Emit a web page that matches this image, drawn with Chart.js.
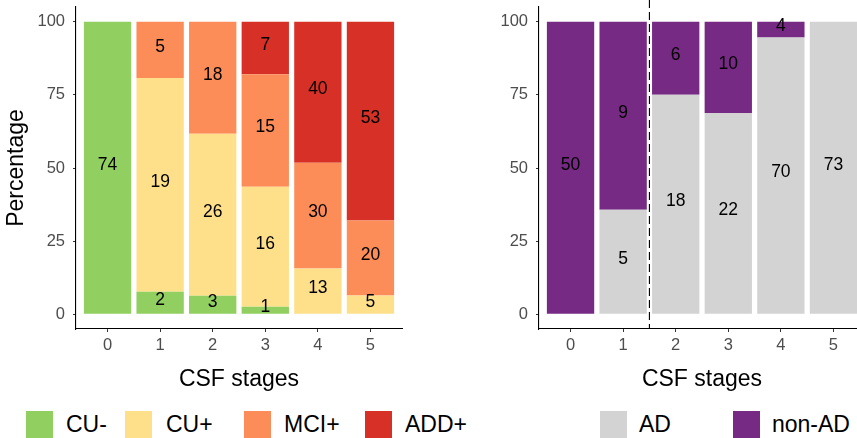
<!DOCTYPE html>
<html>
<head>
<meta charset="utf-8">
<script src="https://cdn.jsdelivr.net/npm/chart.js@4/dist/chart.umd.min.js"></script>
<style>
  html, body { margin: 0; padding: 0; width: 857px; height: 438px; overflow: hidden; background: #fff; }
  body { position: relative; font-family: "Liberation Sans", Arial, sans-serif; }
  .panel { position: absolute; top: 0; }
  .key { position: absolute; top: 411px; width: 27px; height: 27px; }
  .key-label { position: absolute; top: 411px; height: 27px; line-height: 27px; font-size: 23px; color: #000; }
</style>
</head>
<body>
<div class="panel" style="left:0"><canvas id="left" width="420" height="400"></canvas></div>
<div class="panel" style="left:460px"><canvas id="right" width="420" height="400"></canvas></div>
<div id="legend"></div>
<script>
// counts per CSF stage
const stages = [0, 1, 2, 3, 4, 5];
const cuNeg = [74, 2, 3, 1, 0, 0];
const cuPos = [0, 19, 26, 16, 13, 5];
const mciPos = [0, 5, 18, 15, 30, 20];
const addPos = [0, 0, 0, 7, 40, 53];
const adCounts = [0, 5, 18, 22, 70, 73];
const nonAdCounts = [50, 9, 6, 10, 4, 0];
const yTicks = [0, 25, 50, 75, 100];
const cutStage = 1.5;

const FONT = '"Liberation Sans", Arial, sans-serif';

function toPct(groups) {
  const totals = stages.map((_, i) => groups.reduce((s, g) => s + g.counts[i], 0));
  return groups.map(g => ({
    label: g.label,
    counts: g.counts,
    data: stages.map((s, i) => ({ x: s, y: totals[i] ? g.counts[i] / totals[i] * 100 : 0 })),
    backgroundColor: g.color,
    borderWidth: 0,
    barPercentage: 0.9,
    categoryPercentage: 1
  }));
}

const leftGroups = [
  { label: 'CU-', counts: cuNeg, color: '#91CF60' },
  { label: 'CU+', counts: cuPos, color: '#FEE08B' },
  { label: 'MCI+', counts: mciPos, color: '#FC8D59' },
  { label: 'ADD+', counts: addPos, color: '#D73027' }
];
const rightGroups = [
  { label: 'AD', counts: adCounts, color: '#D3D3D3' },
  { label: 'non-AD', counts: nonAdCounts, color: '#762A83' }
];

// count labels, axis titles and the optional cut line
const textPlugin = {
  id: 'texts',
  afterDatasetsDraw(chart) {
    const ctx = chart.ctx;
    const area = chart.chartArea;
    const o = chart.options.plugins.texts;
    ctx.save();
    if (o.cut != null) {
      const xp = chart.scales.x.getPixelForValue(o.cut);
      ctx.strokeStyle = '#000';
      ctx.lineWidth = 1.1;
      ctx.setLineDash([8, 4]);
      ctx.beginPath();
      ctx.moveTo(xp, 0);
      ctx.lineTo(xp, area.bottom);
      ctx.stroke();
      ctx.setLineDash([]);
    }
    ctx.font = '17.5px ' + FONT;
    ctx.fillStyle = '#000';
    ctx.textAlign = 'center';
    ctx.textBaseline = 'middle';
    chart.data.datasets.forEach((ds, d) => {
      chart.getDatasetMeta(d).data.forEach((bar, i) => {
        const n = ds.counts[i];
        if (!n) return;
        ctx.fillText(String(n), bar.x, (bar.y + bar.base) / 2 - 3);
      });
    });
    ctx.font = '23px ' + FONT;
    ctx.fillText('CSF stages', (area.left + area.right) / 2, 380);
    if (o.yTitle) {
      ctx.translate(17, (area.top + area.bottom) / 2);
      ctx.rotate(-Math.PI / 2);
      ctx.fillText(o.yTitle, 0, 0);
    }
    ctx.restore();
  }
};

function makeChart(id, groups, extra, rightPad) {
  return new Chart(document.getElementById(id), {
    type: 'bar',
    data: { datasets: toPct(groups) },
    plugins: [textPlugin],
    options: {
      responsive: false,
      animation: false,
      layout: { padding: { top: 7, right: rightPad, left: 0, bottom: 0 } },
      plugins: { legend: { display: false }, tooltip: { enabled: false }, texts: extra },
      scales: {
        x: {
          type: 'linear', min: -0.6, max: 5.6, offset: false, stacked: true,
          afterBuildTicks: s => { s.ticks = stages.map(v => ({ value: v })); },
          afterFit: s => { s.height = 71; s.paddingLeft = 0; s.paddingRight = 0; },
          grid: { drawOnChartArea: false, drawTicks: true, tickLength: 3, color: '#333', offset: false },
          border: { display: true, color: '#000', width: 1.1 },
          ticks: { color: '#4D4D4D', font: { size: 16.5, family: FONT }, padding: 4, maxRotation: 0 }
        },
        y: {
          type: 'linear', min: -5, max: 105, stacked: true,
          afterBuildTicks: s => { s.ticks = yTicks.map(v => ({ value: v })); },
          afterFit: s => { s.width = extra.axisLeft; s.paddingTop = 0; s.paddingBottom = 0; },
          grid: { drawOnChartArea: false, drawTicks: true, tickLength: 3, color: '#333' },
          border: { display: true, color: '#000', width: 1.1 },
          ticks: { color: '#4D4D4D', font: { size: 16.5, family: FONT }, padding: 8 }
        }
      }
    }
  });
}

makeChart('left', leftGroups, { yTitle: 'Percentage', axisLeft: 76, cut: null }, 18);
makeChart('right', rightGroups, { yTitle: null, axisLeft: 79, cut: cutStage }, 15);

// legend under each panel
const legendPos = [
  [leftGroups[0], 26, 66], [leftGroups[1], 125, 166], [leftGroups[2], 244, 284], [leftGroups[3], 365, 405],
  [rightGroups[0], 600, 639], [rightGroups[1], 733, 772]
];
const legend = document.getElementById('legend');
legendPos.forEach(([g, kx, tx]) => {
  const k = document.createElement('div');
  k.className = 'key';
  k.style.left = kx + 'px';
  k.style.background = g.color;
  legend.appendChild(k);
  const t = document.createElement('div');
  t.className = 'key-label';
  t.style.left = tx + 'px';
  t.textContent = g.label;
  legend.appendChild(t);
});
</script>
</body>
</html>
